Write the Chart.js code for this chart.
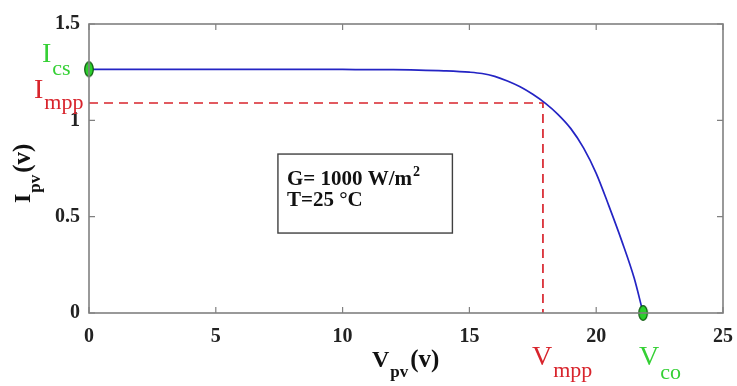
<!DOCTYPE html>
<html>
<head>
<meta charset="utf-8">
<script src="https://cdn.jsdelivr.net/npm/chart.js@4.4.0/dist/chart.umd.min.js"></script>
<style>
  html, body { margin: 0; padding: 0; background: #fff; }
  #wrap { width: 737px; height: 386px; }
</style>
</head>
<body>
<div id="wrap"><canvas id="iv_chart" width="737" height="386"></canvas></div>
<script>
// I-V curve of the PV module
var voltage = [0, 2, 4, 6, 8, 10, 11, 12, 13, 14, 15, 15.5, 16, 16.5, 17, 17.5, 18, 18.5, 19, 19.5, 20, 20.5, 21, 21.5, 21.85];
var current = [1.265, 1.265, 1.265, 1.265, 1.264, 1.264, 1.263, 1.263, 1.261, 1.257, 1.25, 1.243, 1.228, 1.204, 1.174, 1.135, 1.088, 1.03, 0.957, 0.857, 0.725, 0.556, 0.377, 0.18, 0];

// characteristic points
var Isc = 1.265;
var Voc = 21.85;
var Vmpp = 17.9;
var Impp = 1.09;

var xTicks = [0, 5, 10, 15, 20, 25];
var yTicks = [0, 0.5, 1, 1.5];

var serif = '"Liberation Serif", "DejaVu Serif", serif';
var green = '#35d035';
var red = '#d8242c';

function makeEllipse() {
    var c = document.createElement('canvas');
    c.width = 12;
    c.height = 18;
    var g = c.getContext('2d');
    g.beginPath();
    g.ellipse(6, 9, 4.3, 7.3, 0, 0, Math.PI * 2);
    g.fillStyle = '#2ccf2c';
    g.fill();
    g.lineWidth = 1.2;
    g.strokeStyle = '#0e5a0e';
    g.stroke();
    return c;
}

function sub(ctx, x, y, big, small, bigFont, smallFont, drop, color) {
    ctx.fillStyle = color;
    ctx.font = bigFont;
    ctx.fillText(big, x, y);
    var w = ctx.measureText(big).width;
    ctx.font = smallFont;
    ctx.fillText(small, x + w + 1, y + drop);
    return x + w + 1 + ctx.measureText(small).width;
}

var decorPlugin = {
    id: 'decor',
    afterDatasetsDraw: function (chart) {
        var ctx = chart.ctx;
        var a = chart.chartArea;
        var xs = chart.scales.x;
        var ys = chart.scales.y;
        ctx.save();

        // frame + inner ticks on all four sides
        ctx.strokeStyle = '#808080';
        ctx.lineWidth = 1.6;
        ctx.strokeRect(a.left, a.top, a.right - a.left, a.bottom - a.top);
        ctx.lineWidth = 1.2;
        ctx.beginPath();
        xTicks.forEach(function (v) {
            var px = xs.getPixelForValue(v);
            ctx.moveTo(px, a.bottom); ctx.lineTo(px, a.bottom - 6);
            ctx.moveTo(px, a.top); ctx.lineTo(px, a.top + 6);
        });
        yTicks.forEach(function (v) {
            var py = ys.getPixelForValue(v);
            ctx.moveTo(a.left, py); ctx.lineTo(a.left + 6, py);
            ctx.moveTo(a.right, py); ctx.lineTo(a.right - 6, py);
        });
        ctx.stroke();

        // parameter box
        var bx = xs.getPixelForValue(7.45), bx2 = xs.getPixelForValue(14.33);
        var by = ys.getPixelForValue(0.825), by2 = ys.getPixelForValue(0.415);
        ctx.fillStyle = '#fff';
        ctx.fillRect(bx, by, bx2 - bx, by2 - by);
        ctx.strokeStyle = '#404040';
        ctx.lineWidth = 1.4;
        ctx.strokeRect(bx, by, bx2 - bx, by2 - by);
        ctx.fillStyle = '#111';
        ctx.textAlign = 'left';
        ctx.textBaseline = 'alphabetic';
        ctx.font = 'bold 21px ' + serif;
        ctx.fillText('G= 1000 W/m', bx + 9, by + 31);
        var gw = ctx.measureText('G= 1000 W/m').width;
        ctx.font = 'bold 14px ' + serif;
        ctx.fillText('2', bx + 10 + gw, by + 22);
        ctx.font = 'bold 21px ' + serif;
        ctx.fillText('T=25 \u00b0C', bx + 9, by + 52);

        // point labels
        var big = '28px ' + serif, small = '22px ' + serif;
        var yIsc = ys.getPixelForValue(Isc);
        var yImpp = ys.getPixelForValue(Impp);
        sub(ctx, 42, yIsc - 7, 'I', 'cs', big, small, 13, green);
        sub(ctx, 34, yImpp - 5, 'I', 'mpp', big, small, 11, red);
        var xVmpp = xs.getPixelForValue(Vmpp);
        var xVoc = xs.getPixelForValue(Voc);
        sub(ctx, xVmpp - 11, 365, 'V', 'mpp', big, small, 12, red);
        sub(ctx, xVoc - 4, 365, 'V', 'co', big, small, 14, green);

        // axis titles
        var tb = 'bold 24px ' + serif, ts = 'bold 17px ' + serif;
        var e = sub(ctx, 372, 367, 'V', 'pv', tb, ts, 10, '#111');
        ctx.font = 'bold 25px ' + serif;
        ctx.fillText('(v)', e + 2, 367);

        ctx.translate(30, 203);
        ctx.rotate(-Math.PI / 2);
        e = sub(ctx, 0, 0, 'I', 'pv', tb, ts, 10, '#111');
        ctx.font = 'bold 25px ' + serif;
        ctx.fillText('(v)', e + 2, 0);

        ctx.restore();
    }
};

var tickFont = { family: serif, size: 20, weight: 'bold' };

var config = {
    type: 'scatter',
    data: {
        datasets: [
            {
                data: [{ x: 0, y: Isc }, { x: Voc, y: 0 }],
                showLine: false,
                pointStyle: makeEllipse(),
                pointRadius: 7,
                clip: false
            },
            {
                data: voltage.map(function (v, i) { return { x: v, y: current[i] }; }),
                showLine: true,
                borderColor: '#2424c4',
                borderWidth: 1.7,
                pointRadius: 0,
                cubicInterpolationMode: 'monotone'
            },
            {
                data: [{ x: 0, y: Impp }, { x: Vmpp, y: Impp }, { x: Vmpp, y: 0 }],
                showLine: true,
                borderColor: red,
                borderWidth: 1.7,
                borderDash: [9, 6],
                pointRadius: 0,
                tension: 0
            }
        ]
    },
    options: {
        responsive: false,
        animation: false,
        events: [],
        layout: { padding: { top: 24, right: 14, left: 0, bottom: 0 } },
        plugins: { legend: false, tooltip: { enabled: false } },
        scales: {
            x: {
                type: 'linear',
                min: 0,
                max: 25,
                afterFit: function (s) { s.height = 73; s.paddingRight = 0; s.paddingLeft = 0; },
                afterBuildTicks: function (s) { s.ticks = xTicks.map(function (v) { return { value: v }; }); },
                grid: { display: false, drawTicks: false },
                border: { display: false },
                ticks: { font: tickFont, color: '#222', padding: 12, maxRotation: 0, callback: function (v) { return String(v); } }
            },
            y: {
                type: 'linear',
                min: 0,
                max: 1.5,
                afterFit: function (s) { s.width = 89; s.paddingTop = 0; s.paddingBottom = 0; },
                afterBuildTicks: function (s) { s.ticks = yTicks.map(function (v) { return { value: v }; }); },
                grid: { display: false, drawTicks: false },
                border: { display: false },
                ticks: { font: tickFont, color: '#222', padding: 9, callback: function (v) { return String(v); } }
            }
        }
    },
    plugins: [decorPlugin]
};

new Chart(document.getElementById('iv_chart').getContext('2d'), config);
</script>
</body>
</html>
